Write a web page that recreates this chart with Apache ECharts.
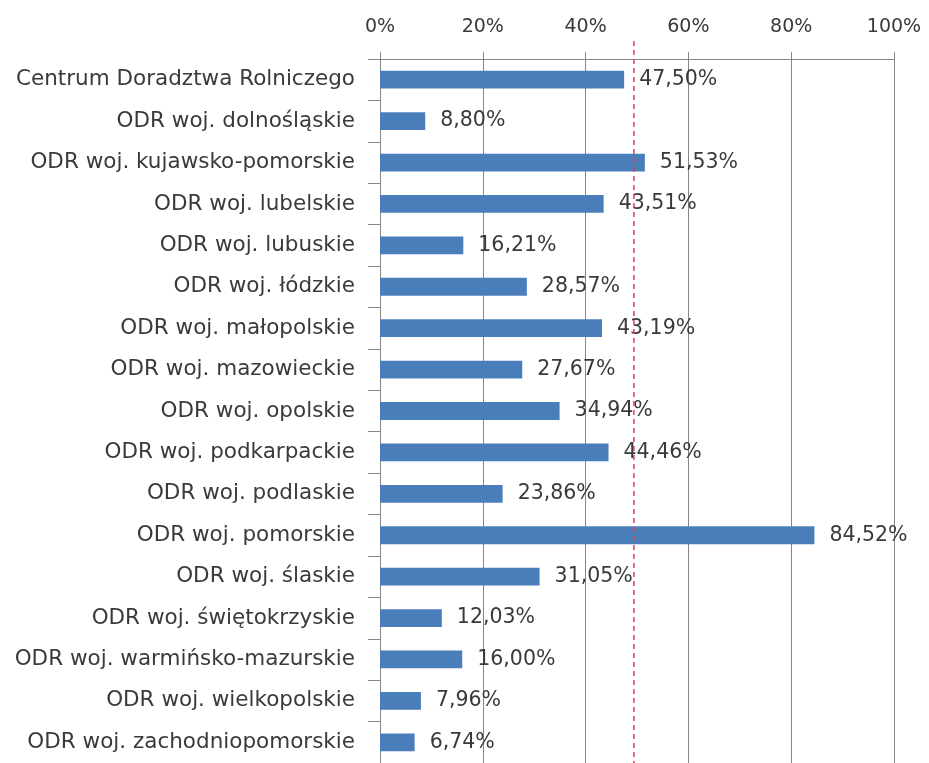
<!DOCTYPE html>
<html>
<head>
<meta charset="utf-8">
<script src="https://cdn.jsdelivr.net/npm/echarts@6/dist/echarts.min.js"></script>
<style>html,body{margin:0;padding:0;background:#fff;}#c{width:929px;height:763px;}</style>
</head>
<body>
<div id="c"></div>
<script>
const categories = [
  'Centrum Doradztwa Rolniczego',
  'ODR woj. dolnośląskie',
  'ODR woj. kujawsko-pomorskie',
  'ODR woj. lubelskie',
  'ODR woj. lubuskie',
  'ODR woj. łódzkie',
  'ODR woj. małopolskie',
  'ODR woj. mazowieckie',
  'ODR woj. opolskie',
  'ODR woj. podkarpackie',
  'ODR woj. podlaskie',
  'ODR woj. pomorskie',
  'ODR woj. ślaskie',
  'ODR woj. świętokrzyskie',
  'ODR woj. warmińsko-mazurskie',
  'ODR woj. wielkopolskie',
  'ODR woj. zachodniopomorskie'
];
const values = [47.50, 8.80, 51.53, 43.51, 16.21, 28.57, 43.19, 27.67, 34.94, 44.46, 23.86, 84.52, 31.05, 12.03, 16.00, 7.96, 6.74];
const referenceValue = 49.4;
const xTicks = [0, 20, 40, 60, 80, 100];

const FONT = 'DejaVu Sans';
const TXT = '#3a3a3a';
const GRID = '#868686';

const chart = echarts.init(document.getElementById('c'), null, {renderer: 'canvas'});
chart.setOption({
  animation: false,
  backgroundColor: '#ffffff',
  textStyle: {fontFamily: FONT},
  grid: {left: 380, right: 35, top: 59, height: 706, containLabel: false},
  xAxis: {
    type: 'value',
    position: 'top',
    min: xTicks[0],
    max: xTicks[xTicks.length - 1],
    interval: xTicks[1] - xTicks[0],
    axisLine: {show: true, lineStyle: {color: GRID, width: 1}},
    axisTick: {show: true, length: 7, lineStyle: {color: GRID}},
    splitLine: {show: true, lineStyle: {color: GRID, width: 1}},
    axisLabel: {formatter: '{value}%', fontSize: 19, color: TXT, margin: 22, fontFamily: FONT}
  },
  yAxis: {
    type: 'category',
    inverse: true,
    data: categories,
    axisLine: {show: true, lineStyle: {color: GRID, width: 1}},
    axisTick: {show: true, length: 12, lineStyle: {color: GRID}},
    axisLabel: {fontSize: 21.5, color: TXT, margin: 25, fontFamily: FONT}
  },
  series: [{
    type: 'bar',
    data: values,
    barWidth: '43%',
    itemStyle: {color: '#4a7ebb'},
    label: {
      show: true,
      position: 'right',
      distance: 15,
      fontSize: 20.5,
      color: TXT,
      fontFamily: FONT,
      formatter: p => p.value.toFixed(2).replace('.', ',') + '%'
    },
    z: 2
  }]
});

// reference dashed line, positioned through the axis scale
const rx = chart.convertToPixel({xAxisIndex: 0}, referenceValue);
chart.setOption({
  graphic: [{
    type: 'line',
    shape: {x1: rx, y1: 41, x2: rx, y2: 763},
    style: {stroke: '#d9434a', lineWidth: 1.5, lineDash: [5, 4]},
    z: 10
  }]
});
</script>
</body>
</html>
